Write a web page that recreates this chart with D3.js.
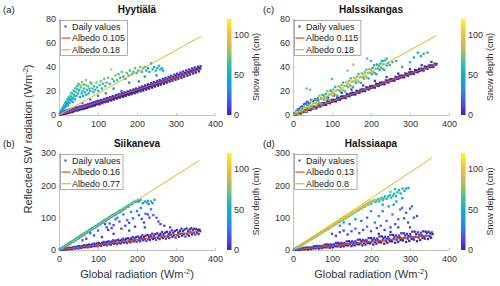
<!DOCTYPE html>
<html>
<head>
<meta charset="utf-8">
<script src="https://cdn.jsdelivr.net/npm/d3@7"></script>
<style>
  body { margin: 0; background: #fff; }
  svg text { font-family: "Liberation Sans", Arial, Helvetica, sans-serif; }
</style>
</head>
<body>
<svg id="chart" width="500" height="286"></svg>
<script>
// ---- data: [global radiation, reflected SW, snow depth] ----
// Hyytiälä, snow free days
const hyyBare = [
[2,0.5,3],[3,1.3,12],[4,0.3,0],[5,1.8,20],[6,0.9,2],[7,2.4,25],[8,0.6,0],[9,1.5,8],[10,2.6,18],[11,0.8,1],[12,1.9,5],[13,3.3,22],[14,1.2,0],[15,2.4,9],[16,1.0,1],[17,3.0,14],[18,1.7,0],[19,3.9,26],[20,2.2,3],[21,1.4,0],[22,3.2,10],[23,2.0,1],[24,4.4,19],[25,2.6,2],[26,1.9,0],[27,3.6,7],[28,2.3,1],[29,5.0,24],[30,2.9,0],[31,3.8,6],[32,2.4,0],[33,4.5,12],[34,3.1,1],[35,5.6,20],[36,2.8,0],[37,4.2,4],[38,3.3,1],[39,5.2,9],[40,3.6,0],[41,4.6,3],[42,6.3,17],[43,3.9,0],[44,5.0,2],[45,4.1,1],[46,6.1,8],[47,4.7,0],[48,5.6,3],[49,3.9,0],[50,6.8,14],[51,5.1,1],[52,4.4,0],[53,6.0,5],[54,5.3,0],[55,7.2,11],[56,4.8,0],[57,6.4,3],[58,5.5,1],[59,7.5,9],[60,5.9,0],[61,5.0,2],[62,6.9,4],[63,5.7,0],[64,7.9,12],[65,6.2,1],[66,5.4,0],[67,7.3,3],[68,6.3,0],[69,8.4,8],[70,6.8,1],[71,5.9,0],[72,7.8,2],[73,6.9,0],[74,9.0,10],[75,7.4,1],[76,6.5,0],[77,8.3,4],[78,7.2,0],[79,9.4,6],[80,7.8,0],[82,8.9,2],[83,7.1,0],[84,10.1,9],[85,8.4,1],[86,7.6,0],[88,9.6,3],[89,8.2,0],[90,10.8,7],[91,8.9,1],[92,7.9,0],[94,10.2,2],[95,8.8,0],[96,11.4,8],[97,9.5,1],[99,10.7,0],[100,9.1,2],
[101,11.9,5],[103,10.1,0],[104,8.9,1],[105,11.6,3],[107,10.4,0],[108,12.6,6],[110,10.9,1],[111,9.8,0],[113,12.2,2],[114,11.0,0],[116,13.4,7],[117,11.5,1],[119,10.7,0],[120,12.9,3],[122,11.8,0],[123,14.1,5],[125,12.4,1],[126,11.2,0],[128,13.8,2],[129,12.6,0],[131,14.9,6],[132,13.0,1],[134,12.1,0],[135,14.5,3],[137,13.4,0],[138,15.8,8],[140,14.0,1],[141,12.9,0],[143,15.2,2],[144,14.1,0],[146,16.6,5],[147,14.7,1],[149,13.8,0],[150,16.0,3],[152,15.0,0],[153,17.3,6],[155,15.6,1],[156,14.5,0],[158,16.9,2],[159,15.8,0],[161,18.2,7],[162,16.3,1],[164,15.1,0],[165,17.5,3],[167,16.4,0],[168,18.9,4],[170,17.1,1],[171,15.9,0],[173,18.3,2],[174,17.2,0],[176,19.7,6],[177,17.8,1],[179,16.7,0],[180,19.0,3],[182,18.0,0],[183,20.5,5],[185,18.6,1],[186,17.3,0],[188,19.9,2],[189,18.7,0],[191,21.4,7],[192,19.3,1],[194,18.1,0],[195,20.7,3],[197,19.6,0],[198,22.1,4],[200,20.2,1],
[201,18.9,0],[203,21.5,2],[204,20.4,0],[206,23.0,6],[207,21.0,1],[209,19.7,0],[210,22.3,3],[212,21.2,0],[213,23.8,5],[215,21.9,1],[216,20.4,0],[218,23.1,2],[219,22.0,0],[221,24.7,7],[222,22.6,1],[224,21.2,0],[225,23.9,3],[227,22.9,0],[228,25.6,4],[230,23.5,1],[231,22.0,0],[233,24.8,2],[234,23.7,0],[236,26.5,6],[237,24.3,1],[239,22.8,0],[240,25.6,3],[242,24.6,0],[243,27.4,5],[245,25.2,1],[246,23.7,0],[248,26.5,2],[249,25.4,0],[251,28.3,7],[252,26.0,1],[254,24.5,0],[255,27.3,3],[257,26.3,0],[258,29.1,4],[260,26.9,1],[261,25.3,0],[263,28.2,2],[264,27.2,0],[266,30.0,6],[267,27.7,1],[269,26.1,0],[270,29.0,3],[272,28.0,0],[273,30.9,5],[275,28.5,1],[276,26.9,0],[278,29.9,2],[279,28.9,0],[281,31.8,7],[282,29.4,1],[284,27.8,0],[285,30.8,3],[287,29.8,0],[288,32.7,4],[290,30.2,1],[291,28.6,0],[293,31.6,2],[294,30.6,0],[296,33.6,6],[297,31.1,1],[299,29.4,0],[300,32.5,3],
[302,31.5,0],[303,34.4,5],[305,32.0,1],[306,30.3,0],[308,33.4,2],[309,32.4,0],[311,35.3,7],[312,32.8,1],[314,31.1,0],[315,34.2,3],[317,33.2,0],[318,36.2,4],[320,33.7,1],[321,32.0,0],[323,35.1,2],[324,34.1,0],[326,37.1,6],[327,34.5,1],[329,32.8,0],[330,35.9,3],[332,35.0,0],[333,37.9,5],[335,35.4,1],[336,33.7,0],[338,36.8,2],[339,35.8,0],[341,38.8,6],[342,36.3,1],[344,34.6,0],[345,37.6,3],[347,36.6,0],[348,39.5,4],[350,37.1,1],[351,35.4,0],[353,38.5,2],[354,37.5,0],[356,40.2,5],[357,37.9,1],[359,36.3,0],[360,39.2,3],[362,38.4,0],[363,40.6,2]
];
// Hyytiälä, snow covered days
const hyySnow = [
[4,2.5,35],[5,1.2,28],[6,4.0,45],[7,2.8,32],[8,3.5,30],[9,6.0,50],[10,4.4,38],[11,5.0,40],[12,8.0,55],[13,5.8,36],[14,6.5,45],[15,10.0,60],[16,7.6,42],[17,7.0,38],[18,11.0,52],[19,8.4,46],[20,9.0,48],[21,13.0,62],[22,10.2,40],[23,8.0,35],[24,12.0,55],[25,15.0,64],[26,14.0,58],[27,10.0,42],[28,12.8,50],[29,16.0,65],[30,12.0,50],[31,18.5,68],[32,15.0,60],[33,18.0,55],[34,13.6,45],[35,11.0,40],[36,14.0,52],[37,20.5,70],[38,17.0,62],[39,20.0,50],[40,15.8,48],[41,13.0,45],[42,22.5,72],[43,19.0,66],[45,16.0,55],[46,21.5,64],[47,24.0,60],[49,18.0,52],[50,26.0,65],[51,20.4,58],[52,21.0,58],[54,15.0,42],[55,24.6,68],[56,23.0,70],[58,18.0,50],[59,27.5,78],[60,20.0,62],[62,16.0,45],[63,25.5,66],[64,22.0,60],[66,19.0,55],[68,25.0,72],[69,29.0,82],[70,17.0,48],[72,21.0,58],[74,24.0,68],[76,18.0,52],[78,22.0,62],[80,20.0,55],[81,27.0,60],[83,26.0,70],[86,22.0,60],[88,19.0,50],[90,24.0,65],[93,21.0,58],[96,27.0,75],[98,23.0,60],
[101,20.0,50],[104,25.0,66],[107,28.0,70],[110,22.0,55],[113,26.0,62],[116,30.0,72],[119,24.0,58],[122,27.0,65],[126,31.0,70],[130,26.0,55],[134,38.0,90],[137,30.0,68],[141,28.0,60],[145,33.0,72],[149,29.0,62],[153,34.0,70],[157,31.0,58],[161,36.0,68],[165,32.0,55],[170,30.0,62],[174,35.0,72],[178,33.0,58],[182,37.0,65],[187,34.0,55],[191,36.0,60],[195,39.0,70],[199,35.0,52],[203,37.0,62],[208,40.0,72],[212,36.0,50],[216,39.0,58],[220,40.0,65],[224,37.0,55],[228,39.0,50],[232,36.0,52],[236,43.0,48],[240,38.0,55],[244,40.0,50],[248,37.0,55],[252,39.0,48],[256,41.0,52],[260,38.0,50],[264,39.0,55],[267,37.0,50],
[60,10,30],[80,13,30],[100,16,28],[120,18,25],[140,22,32],[160,20,25],[180,27,30],[205,28,26],[220,32,30],[250,33,28]
];
// Siikaneva
const sikBare = [
[2,2.0,0],[4,0.2,3],[6,1.2,1],[8,0.3,6],[10,2.9,0],[12,1.6,2],[14,4.7,9],[16,0.9,1],[18,3.8,4],[20,2.5,0],[22,5.5,2],[24,1.2,13],
[27,7.0,0],[29,3.4,3],[31,5.6,1],[33,2.8,6],[35,7.6,0],[37,5.6,2],[39,9.8,9],[41,4.6,1],[43,8.4,4],[45,6.4,0],[47,10.4,2],[49,4.6,13],
[52,11.9,0],[54,7.2,3],[56,9.9,1],[58,6.2,6],[60,12.3,0],[62,9.7,2],[64,14.9,9],[66,8.2,1],[68,12.9,4],[70,10.3,0],[72,15.2,2],[74,8.0,13],
[77,16.8,0],[79,11.0,3],[81,14.3,1],[83,9.7,6],[85,16.9,0],[87,13.8,2],[89,20.0,9],[91,11.8,1],[93,17.4,4],[95,14.3,0],[97,20.0,2],[99,11.4,13],
[102,21.8,0],[104,14.9,3],[106,18.6,1],[108,13.2,6],[110,21.6,0],[112,17.9,2],[114,25.1,9],[116,15.5,1],[118,21.9,4],[120,18.2,0],[122,24.8,2],[124,14.7,13],
[127,26.7,0],[129,18.7,3],[131,22.9,1],[133,16.6,6],[135,26.3,0],[137,21.9,2],[139,30.2,9],[141,19.1,1],[143,26.4,4],[145,22.2,0],[147,29.6,2],[149,18.1,13],
[152,31.7,0],[154,22.5,3],[156,27.3,1],[158,20.1,6],[160,31.0,0],[162,26.0,2],[164,35.2,9],[166,22.8,1],[168,30.9,4],[170,26.1,0],[172,34.5,2],[174,21.5,13],
[177,36.6,0],[179,26.3,3],[181,31.6,1],[183,23.5,6],[185,35.7,0],[187,30.1,2],[189,40.3,9],[191,26.4,1],[193,35.4,4],[195,30.1,0],[197,39.3,2],[199,24.9,13],
[202,41.6,0],[204,30.1,3],[206,35.9,1],[208,27.0,6],[210,40.4,0],[212,34.2,2],[214,45.4,9],[216,30.0,1],[218,40.0,4],[220,34.0,0],[222,44.1,2],[224,28.2,13],
[227,46.6,0],[229,33.9,3],[231,40.3,1],[233,30.5,6],[235,45.1,0],[237,38.2,2],[239,50.5,9],[241,33.7,1],[243,44.5,4],[245,38.0,0],[247,48.9,2],[249,31.6,13],
[252,51.5,0],[254,37.7,3],[256,44.6,1],[258,33.9,6],[260,49.8,0],[262,42.3,2],[264,55.6,9],[266,37.3,1],[268,49.0,4],[270,41.9,0],[272,53.7,2],[274,35.0,13],
[277,56.4,0],[279,41.5,3],[281,49.0,1],[283,37.4,6],[285,54.4,0],[287,46.4,2],[289,60.6,9],[291,40.9,1],[293,53.5,4],[295,45.8,0],[297,58.5,2],[299,38.4,13],
[302,61.4,0],[304,45.4,3],[306,53.3,1],[308,40.9,6],[310,59.1,0],[312,50.5,2],[314,65.7,9],[316,44.6,1],[318,58.0,4],[320,49.8,0],[322,63.4,2],[324,41.7,13],
[327,66.4,0],[329,49.2,3],[331,57.6,1],[333,44.3,6],[335,63.8,0],[337,54.5,2],[339,67.5,9],[341,48.2,1],[343,62.5,4],[345,53.7,0],[347,66.0,2],[349,47.5,13],
[352,64.2,0],[354,53.5,3],[356,61.0,1],[358,49.0,6],[360,63.0,0],[362,58.0,2]
];
const sikSnow = [
[3,2,30],[5,4.5,40],[6,3.5,35],[8,6.5,45],[10,7,40],[11,9.5,50],[13,9,42],[15,12.5,48],[16,11,38],[18,14.5,52],[20,14,45],[22,18,50],[23,16,42],[25,20.5,55],[27,19,46],[29,23.5,50],[30,21.5,44],[32,26,52],[34,24.5,48],[36,28.5,55],[37,26.5,45],[39,31.5,50],[41,30,46],[43,34.5,54],[44,32,42],[46,37,50],[48,35.5,47],[50,40,56],[51,37,44],[53,42,50],[55,41,48],[57,45.5,55],[58,43,45],[60,47.5,52],[62,46,48],[64,51,56],[65,48,44],[67,53,50],[69,52,47],[71,56.5,55],[72,54,45],[74,58,52],[76,57.5,48],[78,62,56],[79,59,44],[81,64,50],[83,63,47],[85,67.5,54],[86,64.5,45],[88,69,52],[90,68,48],[92,72.5,56],[93,70,44],[95,74,50],[97,73.5,47],[99,78.5,55],
[100,75,45],[102,80,52],[104,79,48],[106,83,56],[107,80.5,44],[109,85,50],[111,84,47],[113,89,55],[114,86,45],[116,91,52],[118,90,48],[120,94.5,56],[121,91,44],[123,96,50],[125,95.5,47],[127,99.5,55],[128,97,45],[130,102,52],[132,101,48],[134,105,56],[136,103,44],[138,108,50],[140,106.5,47],[142,111,55],[144,109,45],[146,113,52],[148,112.5,48],[150,117,62],[152,115,44],[154,120,50],[156,118,47],[158,123,55],[160,121,45],[162,125,52],[164,124,48],[166,129,64],[168,127,44],[170,131,50],[173,133,47],[175,136,55],[178,134,45],[180,139,52],[183,141,48],[186,144,60],[188,142,44],[191,148,50],[194,149,47],[197,152,55],[200,150,45],[203,155,52],[205,150,48],[210,155,55],[220,150,45],[228,152,50],[236,150,55],[245,155,48],[215,145,40],[225,147,42],
[118,80,15],[122,70,10],[126,62,8],[130,82,18],[135,68,12],[140,77,14],[145,95,22],[150,100,28],[155,88,18],[160,66,10],[165,110,25],[170,75,12],[175,92,20],[180,84,15],[185,118,30],[190,98,18],[195,72,10],[200,120,25],[205,108,20],[210,130,28],[212,96,14],[218,85,12],[222,112,20],[228,110,18],[232,100,15],[236,126,25],[242,108,20],[250,100,18],[255,88,12],[260,80,10],[240,145,30],[230,142,28],[100,60,20],[90,45,15],[80,52,22],[70,35,12],[60,30,18],[110,40,10],[140,50,8],[180,60,10],[220,70,8],[270,75,10],[285,70,12]
];
// Halssikangas
const kasBare = [
[3,1.2,0],[5,0.1,2],[8,1.1,1],[10,0.2,4],[13,3.0,0],[15,1.4,1],[18,2.7,3],[20,1.2,0],[23,3.9,2],[25,2.4,0],[28,4.1,5],[30,2.8,1],
[33,4.0,0],[35,2.6,2],[38,5.9,1],[40,4.3,4],[43,5.5,0],[45,4.1,1],[48,6.7,3],[50,5.3,0],[53,7.0,2],[55,5.6,0],[58,6.9,5],[60,5.5,1],
[63,8.7,0],[65,7.2,2],[68,8.4,1],[70,7.0,4],[73,9.6,0],[75,8.1,1],[78,9.9,3],[80,8.5,0],[83,9.8,2],[85,8.4,0],[88,11.6,5],[90,10.1,1],
[93,11.3,0],[95,9.8,2],[98,12.5,1],[100,11.0,4],[103,12.7,0],[105,11.4,1],[108,12.6,3],[110,11.3,0],[113,14.5,2],[115,12.9,0],[118,14.2,5],[120,12.7,1],
[123,15.3,0],[125,13.9,2],[128,15.6,1],[130,14.3,4],[133,15.5,0],[135,14.1,1],[138,17.4,3],[140,15.8,0],[143,17.1,2],[145,15.6,0],[148,18.2,5],[150,16.8,1],
[153,18.5,0],[155,17.1,2],[158,18.4,1],[160,17.0,4],[163,20.2,0],[165,18.7,1],[168,19.9,3],[170,18.5,0],[173,21.1,2],[175,19.6,0],[178,21.4,5],[180,20.0,1],
[183,21.3,0],[185,19.9,2],[188,23.1,1],[190,21.6,4],[193,22.8,0],[195,21.3,1],[198,24.0,3],[200,22.5,0],[203,24.2,2],[205,22.9,0],[208,24.1,5],[210,22.8,1],
[213,26.0,0],[215,24.4,2],[218,25.7,1],[220,24.2,4],[223,26.9,0],[225,25.4,1],[228,27.1,3],[230,25.8,0],[233,27.0,2],[235,25.6,0],[238,28.9,5],[240,27.3,1],
[243,28.6,0],[245,27.1,2],[248,29.7,1],[250,28.3,4],[253,30.0,0],[255,28.6,1],[258,29.9,3],[260,28.5,0],[263,31.8,2],[265,30.2,0],[268,31.4,5],[270,30.0,1],
[273,32.6,0],[275,31.1,2],[278,32.9,1],[280,31.5,4],[283,32.8,0],[285,31.4,1],[288,34.6,3],[290,33.1,0],[293,34.3,2],[295,32.8,0],[298,35.5,5],[300,34.0,1],
[303,35.8,0],[305,34.4,2],[308,35.6,1],[310,34.3,4],[313,37.5,0],[315,35.9,1],[318,37.2,3],[320,35.7,0],[323,38.4,2],[325,36.9,0],[328,38.6,5],[330,37.3,1],
[333,38.5,0],[335,37.1,2],[338,40.4,1],[340,38.8,4],[343,40.1,0],[345,38.6,1],[348,41.2,3],[350,39.8,0],[353,41.5,2],[355,40.1,0],[358,41.4,5],[360,40.0,1],
[363,42.7,0],[366,41.7,2],[368,42.6,1]
];
const kasSnow = [
[4,1.5,55],[6,0.6,70],[8,2.8,80],[10,0.7,62],[12,2.4,84],[14,0.6,75],[16,4.2,48],[18,3.0,80],[20,4.4,66],[22,2.7,86],
[24,5.7,55],[26,3.8,70],[28,7.4,80],[30,3.5,62],[32,6.1,84],[34,3.1,75],[36,8.6,48],[38,6.5,80],[40,8.3,66],[42,5.6,88],
[44,9.9,55],[46,7.0,70],[48,12.0,80],[50,6.4,62],[52,9.8,84],[54,5.5,75],[56,12.9,48],[58,9.9,80],[60,12.3,66],[62,8.7,86],
[64,14.0,55],[66,10.4,70],[68,16.2,80],[70,9.6,62],[72,13.5,84],[74,8.8,75],[76,16.7,48],[78,13.5,80],[80,15.9,66],[82,12.3,96],
[84,17.6,55],[86,14.0,70],[88,19.8,80],[90,13.2,62],[92,17.1,84],[94,12.4,75],[96,20.3,48],[98,17.1,80],[100,19.5,66],[102,15.9,86],
[104,21.2,70],[106,17.6,80],[108,23.4,60],[110,16.8,78],[112,20.7,75],[114,16.0,55],[116,23.9,80],[118,20.7,66],[120,23.1,84],[122,19.5,58],
[124,24.8,70],[126,21.2,80],[128,27.0,60],[130,20.4,78],[132,24.3,75],[134,19.6,55],[136,27.5,80],[138,24.3,66],[140,26.7,96],[142,23.1,58],
[144,28.4,70],[146,24.8,80],[148,30.6,60],[150,24.0,78],[152,27.9,75],[154,23.2,55],[156,31.1,80],[158,27.9,66],[160,30.3,84],[162,26.7,58],
[164,32.0,70],[166,28.4,80],[168,34.2,60],[170,27.6,78],[172,31.5,75],[174,26.8,55],[176,34.7,80],[178,31.5,66],[180,33.9,84],[182,30.3,58],
[184,35.6,70],[186,32.0,80],[188,37.8,60],[190,31.2,78],[192,35.1,75],[194,30.4,55],[196,38.3,80],[198,35.1,66],[200,37.5,84],[202,33.9,58],
[204,39.2,55],[206,35.6,66],[208,41.4,50],[210,34.8,60],[212,38.7,72],[214,34.0,52],[216,41.9,58],[218,38.7,48],[220,41.1,62],[222,37.5,54],
[224,42.8,55],[226,39.2,66],[228,45.0,50],[230,38.4,60],[232,42.3,72],[234,37.6,52],[236,45.5,58],[240,41.2,48],[244,43.4,62],[248,41.6,54],
[35,22,70],[44,21,78],[100,30,66],[140,37,80],[155,42,84],[190,47,72],[200,45,64],[215,42,58],[230,45,55],[240,47,58],[255,44,52],[265,45,55],[280,40,52],[300,44,55],[310,48,50],[320,52,52],[328,49,50],[335,51,52],[345,52,55],
[8,3.2,12],[12,4.6,18],[16,5.1,8],[20,6.8,22],[24,7.2,10],[28,8.9,16],[32,9.5,6],[36,11.1,20],[40,10.2,8],[46,12.6,14],[52,11.8,5],[58,13.1,12],[64,12.2,6],[72,13.8,10],[80,12.9,4],[90,14.5,8],[105,16.2,6],[125,18.4,5],[150,21.2,4],[180,24.6,6],[210,28.4,5],[240,31.6,8],[270,34.5,4],[300,38.2,6],[330,41.5,5],[355,44.2,4]
];
// Halssiaapa
const aapBare = [
[2,0.1,1],[4,2.5,0],[6,0.6,4],[8,2.0,2],[10,0.2,0],[12,3.4,8],[14,1.1,1],[16,2.7,3],[18,0.2,0],[20,4.3,11],[22,3.1,2],[24,1.9,0],[26,6.7,5],[28,3.1,1],
[30,2.0,1],[32,7.4,0],[34,4.2,4],[36,6.3,2],[38,1.6,0],[40,8.1,8],[42,4.5,1],[44,6.7,3],[46,2.9,0],[48,8.8,11],[50,7.0,2],[52,5.1,0],[54,11.7,5],[56,6.7,1],
[58,5.1,1],[60,12.3,0],[62,7.9,4],[64,10.6,2],[66,4.2,0],[68,12.7,8],[70,7.9,1],[72,10.8,3],[74,5.7,0],[76,13.2,11],[78,10.8,2],[80,8.3,0],[82,16.8,5],[84,10.2,1],
[86,8.1,1],[88,17.2,0],[90,11.5,4],[92,14.9,2],[94,6.8,0],[96,17.4,8],[98,11.3,1],[100,14.8,3],[102,8.5,0],[104,17.7,11],[106,14.6,2],[108,11.5,0],[110,21.8,5],[112,13.7,1],
[114,11.1,1],[116,22.2,0],[118,15.2,4],[120,19.2,2],[122,9.4,0],[124,22.0,8],[126,14.7,1],[128,18.8,3],[130,11.3,0],[132,22.2,11],[134,18.5,2],[136,14.7,0],[138,26.8,5],[140,17.2,1],
[142,14.1,1],[144,27.1,0],[146,18.9,4],[148,23.4,2],[150,11.9,0],[152,26.7,8],[154,18.1,1],[156,22.9,3],[158,14.0,0],[160,26.7,11],[162,22.3,2],[164,17.9,0],[166,31.9,5],[168,20.8,1],
[170,17.2,1],[172,32.0,0],[174,22.5,4],[176,27.7,2],[178,14.5,0],[180,31.4,8],[182,21.5,1],[184,26.9,3],[186,16.8,0],[188,31.1,11],[190,26.2,2],[192,21.1,0],[194,36.9,5],[196,24.3,1],
[198,20.2,1],[200,36.9,0],[202,26.2,4],[204,32.0,2],[206,17.1,0],[208,36.0,8],[210,24.9,1],[212,30.9,3],[214,19.6,0],[216,35.6,11],[218,30.0,2],[220,24.3,0],[222,42.0,5],[224,27.8,1],
[226,23.2,1],[228,41.8,0],[230,29.8,4],[232,36.3,2],[234,19.7,0],[236,40.7,8],[238,28.3,1],[240,35.0,3],[242,22.4,0],[244,40.1,11],[246,33.9,2],[248,27.6,0],[250,47.0,5],[252,31.4,1],
[254,26.2,1],[256,46.7,0],[258,33.5,4],[260,40.6,2],[262,22.3,0],[264,45.4,8],[266,31.7,1],[268,39.0,3],[270,25.1,0],[272,44.6,11],[274,37.7,2],[276,30.8,0],[278,52.0,5],[280,34.9,1],
[282,29.3,1],[284,51.6,0],[286,37.1,4],[288,44.9,2],[290,24.9,0],[292,50.0,8],[294,35.1,1],[296,43.0,3],[298,27.9,0],[300,49.0,11],[302,41.5,2],[304,34.0,0],[306,57.1,5],[308,38.4,1],
[310,32.3,1],[312,56.6,0],[314,40.8,4],[316,49.1,2],[318,27.4,0],[320,54.7,8],[322,38.5,1],[324,47.1,3],[326,30.7,0],[328,53.5,11],[330,45.4,2],[332,37.2,0],[334,58.0,5],[336,42.0,1],
[338,35.3,1],[340,57.0,0],[342,44.4,4],[344,53.4,2],[346,34.0,0],[348,56.5,8],[350,41.9,1],[352,51.1,3],[354,38.0,0],[356,54.5,11],[358,49.0,2]
];
const aapSnow = [
[3,2,50],[5,3.5,60],[7,5,55],[8,6.5,70],[10,7,62],[12,9.5,75],[13,8.5,58],[15,11.5,80],[17,12,66],[18,14.5,85],[20,14,60],[22,17,78],[24,16.5,70],[25,19.5,90],[27,19,64],[29,22,82],[31,21.5,72],[32,25,95],[34,24,60],[36,27.5,85],[38,27,75],[40,31,100],[41,29,66],[43,32.5,80],[45,33,70],[47,36.5,92],[48,34,62],[50,38,85],[52,37.5,74],[54,41.5,100],[55,39,65],[57,42.5,82],[59,43,72],[61,46.5,95],[62,44,60],[64,48,86],[66,48.5,76],[68,52,105],[69,49.5,66],[71,53,84],[73,54,74],[75,57.5,96],[76,55,62],[78,58.5,88],[80,59,76],[82,62.5,102],[83,60,66],[85,63.5,82],[87,64.5,72],[89,68,96],[90,65,60],[92,68.5,86],[94,70,76],[96,73.5,104],[97,70.5,64],[99,74,84],
[101,75,72],[103,78.5,98],[104,75.5,62],[106,79,88],[108,80,76],[110,84,100],[112,82,66],[114,85,82],[116,86,72],[118,89.5,96],[120,87,60],[122,90.5,86],[124,92,76],[126,95.5,104],[128,93.5,64],[130,97,84],[132,98,72],[134,101.5,98],[136,99,62],[138,102.5,88],[140,104,76],[142,108,100],[144,105,66],[146,109,82],[148,110,72],[150,114,96],[152,111,60],[154,115,86],[156,117,76],[158,120,104],[160,117,64],[162,121,84],[164,122,72],[166,126,98],[168,123,62],[170,127,88],[172,129,76],[174,132,100],[176,128,66],[178,133,82],[180,135,72],[182,138,96],[184,134,60],[186,139,86],[188,141,76],[190,144,90],[192,140,64],[194,145,84],[196,147,72],[198,150,88],
[200,143,62],[203,149,80],[206,152,70],[209,155,78],[212,148,60],[215,154,72],[218,158,66],[221,150,58],[224,157,70],[227,162,62],[230,155,55],[233,160,65],[236,166,58],[240,158,52],[244,165,60],[248,170,55],[252,162,50],[256,168,58],[260,174,52],[264,166,48],[268,178,55],[272,185,50],[276,175,48],[281,190,52],[286,183,50],[290,190,45],[296,192,48],[262,188,60],[250,180,70],
[100,50,15],[110,44,10],[120,55,18],[130,60,12],[140,48,10],[150,58,15],[160,66,20],[170,52,12],[180,62,15],[190,72,22],[200,58,12],[210,85,25],[215,68,15],[220,105,30],[225,75,18],[230,120,28],[235,62,10],[240,90,20],[245,135,35],[250,70,12],[255,110,25],[258,140,38],[262,80,15],[265,150,40],[270,95,18],[275,125,25],[280,130,22],[285,98,15],[290,115,20],[295,85,12],[300,128,18],[305,135,22],[310,100,15],[318,105,12],[280,160,35],[230,140,45],[190,100,20],[175,90,22],[160,95,30],[145,80,25],[130,85,35],[120,75,30],[200,120,35],[270,70,10],[300,70,10],[250,56,8],[220,50,8]
];

// panel order: (a) Hyytiälä, (b) Siikaneva, (c) Halssikangas, (d) Halssiaapa
const sites = ["Hyytiälä", "Siikaneva", "Halssikangas", "Halssiaapa"];
const panelTags = ["(a)", "(b)", "(c)", "(d)"];
const bareDays = [hyyBare, sikBare, kasBare, aapBare];
const snowDays = [hyySnow, sikSnow, kasSnow, aapSnow];
const albedoLow = [0.105, 0.16, 0.115, 0.13];
const albedoHigh = [0.18, 0.77, 0.18, 0.8];
const radMax = [365, 360, 368, 356];
const yMax = [80, 300, 80, 300];
const yTicksSmall = [0, 20, 40, 60, 80];
const yTicksLarge = [0, 100, 200, 300];
const xTicks = [0, 100, 200, 300, 400];
const snowTicks = [0, 50, 100];
const snowMax = 120;
const parulaStops = ["#3e26a8", "#4743ef", "#3772f7", "#1d96e8", "#0aaed0", "#28bcaa", "#6cc47c", "#b5bf55", "#f0b83c", "#fbd02a", "#f9fb15"];

// ---- layout ----
const axLeft = [59, 59, 293, 293];
const axTop = [19, 153, 19, 153];
const axWidth = 156;
const axHeight = [96, 97, 96, 97];
const tagX = [3, 3, 263, 263];
const fontFam = '"Liberation Sans", Arial, Helvetica, sans-serif';
const axisGrey = "#c2c2c2";
const textGrey = "#333";
const red = "#d95319", orange = "#edb120";
const dot = 2.3;

const svg = d3.select("#chart");
const defs = svg.append("defs");

const parula = d3.scaleLinear()
  .domain(parulaStops.map((c, i) => i / (parulaStops.length - 1)))
  .range(parulaStops)
  .clamp(true);

const grad = defs.append("linearGradient").attr("id", "parulaGrad")
  .attr("x1", 0).attr("y1", 1).attr("x2", 0).attr("y2", 0);
grad.selectAll("stop").data(parulaStops).join("stop")
  .attr("offset", (c, i) => i / (parulaStops.length - 1))
  .attr("stop-color", c => c);

function unitLabel(sel, prefix) {
  sel.text(prefix + " (Wm");
  sel.append("tspan").attr("dy", -4).attr("font-size", 7.5).text("-2");
  sel.append("tspan").attr("dy", 4).text(")");
}

function drawPanel(i) {
  const x0 = axLeft[i], y0 = axTop[i], h = axHeight[i];
  const x = d3.scaleLinear().domain([0, 400]).range([x0, x0 + axWidth]);
  const y = d3.scaleLinear().domain([0, yMax[i]]).range([y0 + h, y0]);
  const g = svg.append("g");

  // axes (drawn under the data, like MATLAB's default layer)
  const xa = g.append("g").attr("transform", `translate(0,${y0 + h})`)
    .call(d3.axisBottom(x).tickValues(xTicks).tickSizeInner(-2).tickSizeOuter(0).tickPadding(5.5));
  const ya = g.append("g").attr("transform", `translate(${x0},0)`)
    .call(d3.axisLeft(y).tickValues(yMax[i] > 100 ? yTicksLarge : yTicksSmall).tickSizeInner(-2).tickSizeOuter(0).tickPadding(3));
  [xa, ya].forEach(a => {
    a.attr("font-family", fontFam).attr("font-size", 9);
    a.select(".domain").attr("stroke", axisGrey);
    a.selectAll(".tick line").attr("stroke", axisGrey);
    a.selectAll(".tick text").attr("fill", textGrey);
  });

  // daily values, coloured by snow depth
  const pts = bareDays[i].concat(snowDays[i]).slice().sort((a, b) => a[2] - b[2]);
  g.append("g").selectAll("rect").data(pts).join("rect")
    .attr("x", d => x(d[0]) - dot / 2)
    .attr("y", d => y(d[1]) - dot / 2)
    .attr("width", dot).attr("height", dot)
    .attr("fill", d => parula(d[2] / snowMax));

  // albedo lines
  g.append("line")
    .attr("x1", x(0)).attr("y1", y(0))
    .attr("x2", x(radMax[i])).attr("y2", y(albedoLow[i] * radMax[i]))
    .attr("stroke", red).attr("stroke-width", 1.2);
  g.append("line")
    .attr("x1", x(0)).attr("y1", y(0))
    .attr("x2", x(radMax[i])).attr("y2", y(albedoHigh[i] * radMax[i]))
    .attr("stroke", orange).attr("stroke-width", 1);

  // legend
  const lg = g.append("g").attr("transform", `translate(${x0 + 1.5},${y0 + 1.5})`);
  const box = lg.append("rect").attr("fill", "#fff").attr("stroke", "#777").attr("stroke-width", 0.6)
    .attr("height", 35);
  const labels = ["Daily values", "Albedo " + albedoLow[i], "Albedo " + albedoHigh[i]];
  const rowY = [6, 17.6, 29.2];
  let maxW = 0;
  labels.forEach((t, k) => {
    const tx = lg.append("text").attr("x", 11.5).attr("y", rowY[k]).attr("dy", "0.35em")
      .attr("font-size", 9).attr("fill", "#222").text(t);
    maxW = Math.max(maxW, tx.node().getComputedTextLength());
  });
  box.attr("width", 11.5 + maxW + 2.5);
  lg.append("rect").attr("x", 4).attr("y", rowY[0] - 1).attr("width", 2).attr("height", 2).attr("fill", "#3b3cc8");
  lg.append("line").attr("x1", 1).attr("x2", 10).attr("y1", rowY[1]).attr("y2", rowY[1])
    .attr("stroke", red).attr("stroke-width", 1.2);
  lg.append("line").attr("x1", 1).attr("x2", 10).attr("y1", rowY[2]).attr("y2", rowY[2])
    .attr("stroke", orange).attr("stroke-width", 1.2);

  // colorbar
  const cbX = x0 + 168;
  const cy = d3.scaleLinear().domain([0, snowMax]).range([y0 + h, y0]);
  g.append("rect").attr("x", cbX).attr("y", y0).attr("width", 4.5).attr("height", h)
    .attr("fill", "url(#parulaGrad)");
  g.append("g").selectAll("text").data(snowTicks).join("text")
    .attr("x", cbX + 7).attr("y", d => cy(d)).attr("dy", "0.35em")
    .attr("font-size", 9).attr("fill", textGrey).text(d => d);

  // title and panel tag
  g.append("text").attr("x", x0 + axWidth / 2).attr("y", y0 - 6)
    .attr("text-anchor", "middle").attr("font-size", 10).attr("font-weight", "bold")
    .attr("fill", "#111").text(sites[i]);
  g.append("text").attr("x", tagX[i]).attr("y", y0 - 6)
    .attr("font-size", 9.5).attr("fill", "#222").text(panelTags[i]);

  // axis labels
  if (i % 2 === 1) {
    unitLabel(g.append("text").attr("x", x0 + axWidth / 2).attr("y", 278)
      .attr("text-anchor", "middle").attr("font-size", 11).attr("fill", textGrey), "Global radiation");
  }
  if (i >= 2) {
    g.append("text").attr("transform", `translate(259,${y0 + h / 2}) rotate(-90)`)
      .attr("text-anchor", "middle").attr("font-size", 9).attr("fill", textGrey).text("Snow depth (cm)");
    g.append("text").attr("transform", `translate(492.5,${y0 + h / 2}) rotate(-90)`)
      .attr("text-anchor", "middle").attr("font-size", 9).attr("fill", textGrey).text("Snow depth (cm)");
  }
}

[0, 1, 2, 3].forEach(drawPanel);

// shared y label on the left
unitLabel(svg.append("text").attr("transform", "translate(32,139) rotate(-90)")
  .attr("text-anchor", "middle").attr("font-size", 11).attr("fill", textGrey), "Reflected SW radiation");
</script>
</body>
</html>
